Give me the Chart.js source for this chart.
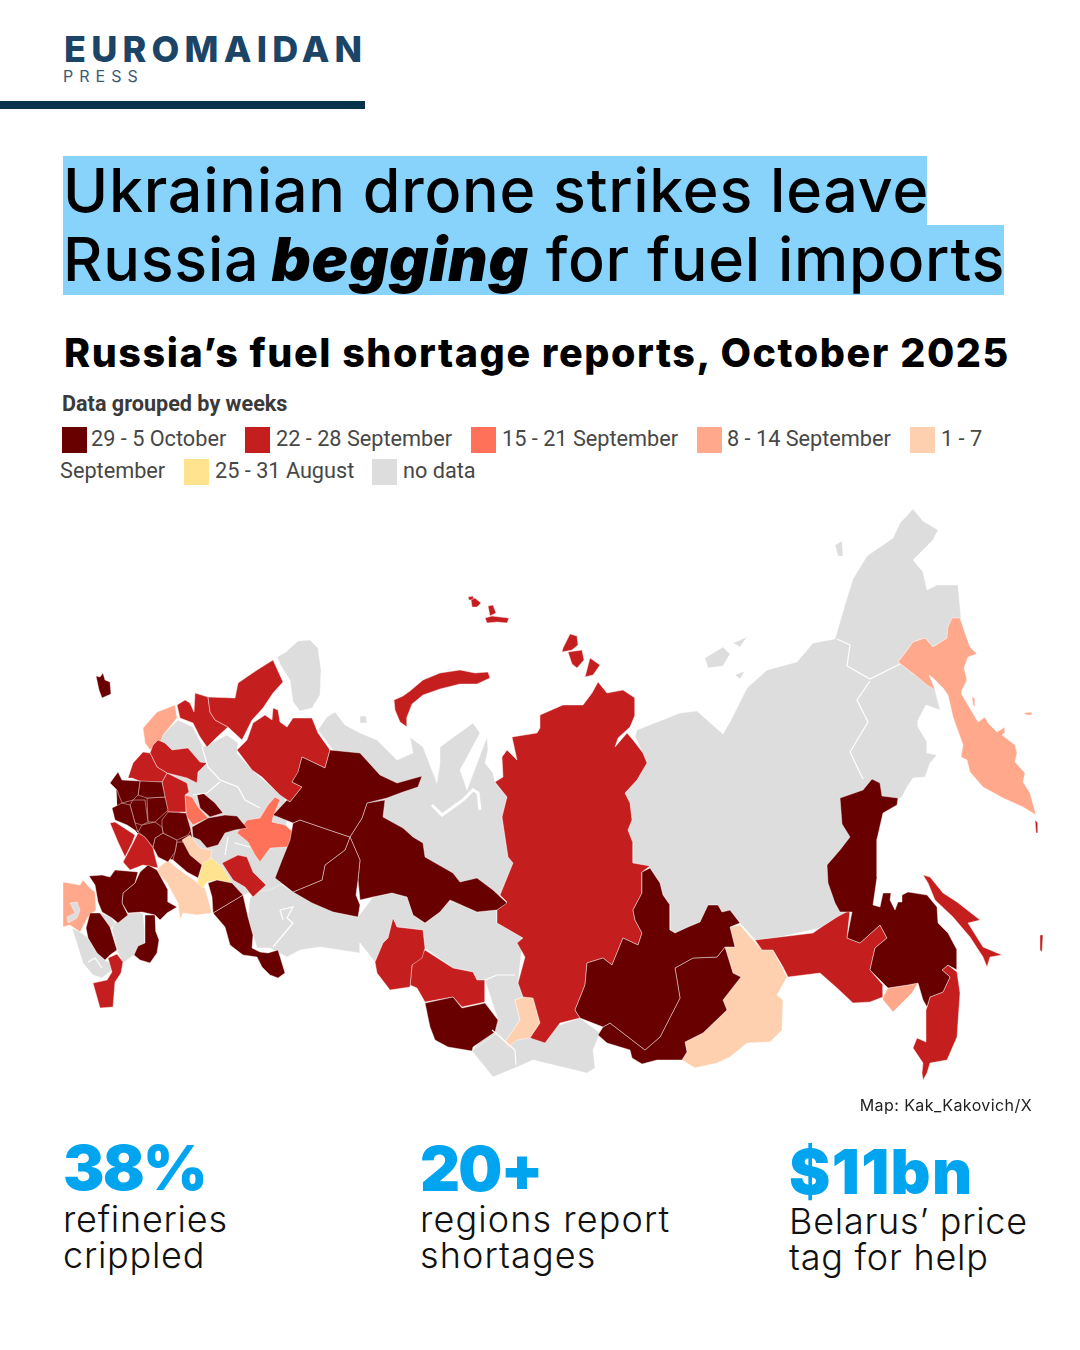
<!DOCTYPE html>
<html>
<head>
<meta charset="utf-8">
<title>Russia's fuel shortage reports, October 2025</title>
<script src="https://cdn.jsdelivr.net/npm/chart.js@4"></script>
<style>
  html, body { margin: 0; padding: 0; background: #fff; }
  #page { position: relative; width: 1080px; height: 1350px; overflow: hidden; font-family: Inter, sans-serif; color: #000; }
  #page div { position: absolute; white-space: nowrap; }
  #mapCanvas { position: absolute; left: 0; top: 490px; }
  .logo1 { left: 64px; top: 28px; font-size: 36px; line-height: 42px; font-weight: 800; letter-spacing: 5.2px; color: #1b4467; }
  .logo2 { left: 63px; top: 66px; font-size: 16px; line-height: 20px; letter-spacing: 6px; color: #3d5a75; }
  .bar { left: 0; top: 101px; width: 365px; height: 8px; background: #07344c; }
  .hl { background: #87d3fb; }
  .head { left: 63px; font-size: 61px; line-height: 70px; font-weight: 500; letter-spacing: 0.75px; }
  .head b { font-weight: 900; font-style: italic; letter-spacing: 0.7px; margin-left: -5px; }
  .sub { left: 64px; top: 328px; font-size: 39.5px; line-height: 50px; font-weight: 800; letter-spacing: 1.55px; }
  .legT { left: 62px; top: 391px; font: 700 21.6px/26px Roboto, sans-serif; color: #3a3a3a; }
  .legL { font: 400 21.7px/28px Roboto, sans-serif; color: #474747; }
  .sw { width: 25px; height: 26px; }
  .credit { right: 48px; top: 1095px; font-size: 16px; line-height: 20px; color: #222; letter-spacing: 0.42px; }
  .stat { font-size: 62px; line-height: 70px; font-weight: 900; color: #00a4ef; }
  .cap { font-size: 36px; line-height: 35.5px; font-weight: 300; color: #111; white-space: pre !important; }
</style>
</head>
<body>
<div id="page">
  <div class="logo1">EUROMAIDAN</div>
  <div class="logo2">PRESS</div>
  <div class="bar"></div>
  <div class="hl" style="left:63px;top:156px;width:864px;height:70px"></div>
  <div class="hl" style="left:63px;top:225px;width:941px;height:70px"></div>
  <div class="head" style="top:155px">Ukrainian drone strikes leave</div>
  <div class="head" style="top:224px">Russia <b>begging</b> for fuel imports</div>
  <div class="sub">Russia’s fuel shortage reports, October 2025</div>
  <div class="legT">Data grouped by weeks</div>
  <div id="legend"></div>
  <canvas id="mapCanvas" width="1080" height="610"></canvas>
  <div class="credit">Map: Kak_Kakovich/X</div>
  <div id="stats"></div>
</div>
<script>
// legend
const weekLabels = ['29 - 5 October', '22 - 28 September', '15 - 21 September', '8 - 14 September', '1 - 7', '25 - 31 August', 'no data'];
const weekColors = ['#680000', '#c51e1e', '#ff7259', '#ffa88b', '#ffd0b0', '#ffe38f', '#dddddd'];

// stats under the map
const statValues = ['38%', '20+', '$11bn'];
const statCaptions = ['refineries\ncrippled', 'regions report\nshortages', 'Belarus’ price\ntag for help'];

// regions, as [x, y] outlines in map units
const noData = [
  [[162,735],[178,720],[193,727],[203,747],[227,735],[238,743],[237,753],[252,770],[273,788],[285,795],[290,880],[270,890],[248,893],[235,900],[210,860],[170,850],[150,820],[160,790],[150,770]],
  [[277,657],[286,652],[298,641],[310,640],[318,648],[321,670],[320,695],[312,708],[300,711],[293,702],[290,680],[281,666]],
  [[318,730],[327,717],[335,712],[345,725],[360,733],[377,740],[397,760],[413,753],[410,737],[423,747],[437,783],[440,763],[440,747],[473,723],[480,733],[460,770],[467,790],[487,737],[488,750],[485,763],[493,773],[495,782],[507,797],[502,817],[508,857],[513,863],[500,895],[497,910],[440,900],[400,850],[360,790],[340,760]],
  [[360,716],[366,716],[367,723],[360,723]],
  [[250,898],[275,880],[293,892],[333,912],[358,917],[373,897],[392,893],[407,897],[413,915],[425,923],[440,912],[450,900],[477,912],[497,910],[497,923],[523,938],[518,983],[523,997],[515,1000],[520,1020],[505,1042],[498,1032],[472,1051],[498,1020],[485,980],[477,980],[473,972],[453,968],[425,948],[423,930],[397,927],[393,918],[388,938],[383,943],[375,962],[360,943],[360,953],[320,947],[300,950],[287,957],[270,948],[257,948],[253,935],[248,917]],
  [[472,1051],[493,1077],[517,1067],[533,1060],[587,1073],[595,1068],[593,1050],[600,1033],[580,1018],[545,1030],[517,1030],[498,1025]],
  [[113,925],[128,913],[143,913],[145,932],[145,943],[138,946],[134,955],[123,963],[118,953],[112,930]],
  [[100,912],[112,918],[116,925],[108,930]],
  [[72,928],[80,932],[87,937],[97,953],[105,960],[110,963],[112,970],[102,978],[93,975],[83,963],[78,947]],
  [[835,639],[847,598],[853,579],[867,556],[893,538],[900,523],[913,509],[923,521],[938,530],[933,540],[913,560],[923,572],[927,590],[937,585],[958,585],[961,618],[947,638],[933,647],[925,638],[913,642],[905,653],[898,662],[915,675],[929,675],[935,690],[940,710],[926,705],[918,720],[918,727],[927,742],[927,753],[937,755],[930,763],[925,777],[913,778],[907,787],[902,797],[880,810],[870,850],[850,911],[837,917],[820,928],[780,937],[755,940],[740,923],[730,910],[722,912],[718,905],[708,905],[700,922],[688,927],[675,933],[670,930],[670,905],[663,895],[660,883],[650,868],[633,863],[633,843],[628,830],[632,820],[630,803],[625,793],[637,780],[647,763],[643,753],[635,737],[637,730],[680,713],[697,711],[723,734],[730,722],[747,688],[767,670],[797,662],[813,643]],
  [[705,658],[723,647],[730,654],[723,666],[708,668]],
  [[733,643],[747,637],[740,647]],
  [[735,675],[745,671],[740,679]],
  [[835,545],[842,541],[843,556],[838,556]],
];
const holeInCrimeaSide = [
  [[70,903],[77,902],[80,910],[77,918],[68,923],[67,917],[75,913]],
];
const sep1to7 = [
  [[182,840],[190,835],[200,848],[212,850],[210,860],[202,866],[190,855]],
  [[158,868],[168,860],[177,868],[198,883],[205,888],[212,913],[197,915],[183,913],[180,920],[178,903],[167,883],[158,873]],
  [[515,1000],[523,997],[533,998],[540,1023],[530,1038],[517,1040],[508,1047],[505,1042],[520,1020]],
  [[730,927],[740,925],[753,940],[762,950],[773,950],[787,977],[777,995],[783,1000],[782,1030],[770,1042],[747,1043],[730,1057],[717,1063],[695,1068],[682,1060],[687,1052],[685,1042],[703,1033],[727,1010],[723,1000],[741,977],[733,973],[725,947],[735,947]],
];
const aug25to31 = [
  [[197,883],[203,863],[212,858],[223,868],[232,883],[217,880],[207,882],[203,888]],
];
const sep8to14 = [
  [[143,728],[157,712],[175,705],[177,718],[163,735],[160,743],[150,750],[145,743]],
  [[63,882],[80,885],[83,880],[90,888],[95,892],[96,910],[88,917],[80,932],[70,925],[63,927]],
  [[952,618],[960,618],[965,633],[970,647],[977,654],[968,657],[964,668],[967,680],[962,690],[962,695],[968,705],[978,722],[985,717],[988,723],[997,732],[1005,727],[1005,732],[1002,735],[1015,745],[1017,753],[1015,762],[1025,773],[1023,782],[1030,793],[1036,815],[1023,807],[1003,798],[983,787],[970,772],[967,760],[961,757],[963,745],[953,717],[948,695],[943,688],[933,678],[929,675],[935,690],[927,685],[915,675],[898,662],[905,653],[913,642],[925,638],[933,647],[947,638],[948,627]],
  [[883,997],[888,988],[908,985],[918,983],[912,993],[893,1012],[883,1000]],
  [[972,697],[975,698],[975,707],[973,705]],
  [[1023,713],[1032,712],[1032,715],[1027,715]],
];
const sep15to21 = [
  [[185,795],[192,797],[198,807],[208,818],[193,825],[187,817],[186,812]],
  [[237,833],[247,820],[260,818],[268,805],[275,797],[280,800],[273,817],[272,822],[285,825],[299,837],[287,847],[270,848],[260,862],[255,855],[248,842]],
];
const sep22to28 = [
  [[208,697],[235,698],[238,683],[257,670],[273,660],[283,682],[273,693],[263,708],[252,720],[242,740],[228,727],[215,720],[210,712]],
  [[177,705],[185,700],[190,703],[194,712],[195,693],[208,697],[210,712],[215,720],[228,727],[217,737],[207,747],[200,737],[193,723],[180,718]],
  [[237,750],[247,740],[253,723],[265,715],[272,720],[273,708],[278,710],[280,722],[287,727],[293,718],[312,718],[318,733],[330,750],[325,768],[302,757],[298,773],[292,782],[302,787],[290,802],[280,795],[273,788],[262,777],[252,770]],
  [[128,778],[133,763],[143,752],[150,753],[157,767],[167,773],[162,782],[142,782],[132,778]],
  [[150,753],[153,745],[158,740],[165,743],[172,750],[188,748],[200,762],[207,763],[198,772],[197,783],[187,778],[167,773],[157,767]],
  [[167,773],[187,783],[189,792],[185,795],[186,812],[168,812],[165,797],[162,782]],
  [[110,823],[115,822],[135,835],[132,843],[125,857],[118,842]],
  [[123,862],[132,845],[138,833],[145,837],[153,848],[158,868],[143,865],[130,870]],
  [[222,863],[238,855],[247,857],[253,872],[266,885],[253,897],[245,887],[233,880]],
  [[108,958],[117,954],[123,962],[121,973],[115,982],[113,1007],[100,1008],[93,983],[107,980],[112,972]],
  [[394,700],[403,696],[410,691],[423,680],[440,673],[460,670],[475,673],[488,672],[490,678],[477,684],[460,684],[440,689],[423,695],[412,704],[407,717],[407,727],[400,722],[395,710]],
  [[471,600],[475,598],[481,603],[477,607],[472,607]],
  [[468,597],[473,596],[474,600],[469,600]],
  [[488,606],[493,605],[496,613],[490,616]],
  [[485,618],[492,616],[500,617],[509,618],[507,623],[497,622],[487,623]],
  [[563,648],[567,640],[570,634],[577,636],[578,645],[572,650],[562,652]],
  [[568,652],[582,650],[584,660],[577,668],[572,664]],
  [[590,658],[600,665],[593,675],[585,677]],
  [[540,715],[563,705],[583,705],[592,693],[598,682],[607,693],[623,690],[635,698],[635,715],[630,727],[618,738],[615,747],[627,733],[633,740],[643,753],[647,763],[637,780],[625,793],[630,803],[632,820],[628,830],[633,843],[633,863],[650,866],[642,872],[642,893],[633,910],[635,920],[642,933],[638,945],[623,938],[612,965],[603,958],[587,963],[585,985],[575,1010],[580,1018],[560,1023],[545,1043],[530,1038],[540,1023],[533,998],[523,997],[518,983],[525,957],[517,943],[523,938],[497,923],[497,910],[507,902],[500,895],[513,863],[508,857],[502,817],[507,797],[495,782],[503,777],[502,757],[507,750],[517,760],[512,737],[537,733],[540,728]],
  [[375,962],[383,943],[388,938],[393,918],[397,927],[423,930],[425,948],[422,958],[412,965],[410,987],[390,990],[377,973]],
  [[412,965],[425,950],[453,968],[473,972],[477,980],[485,980],[485,1002],[462,1007],[453,997],[425,1002],[417,988],[410,985]],
  [[755,940],[780,937],[813,933],[820,928],[837,917],[850,910],[847,938],[860,943],[880,925],[887,938],[875,948],[870,970],[883,985],[883,997],[870,1002],[853,1003],[837,988],[820,973],[788,977],[783,967],[773,950],[762,950]],
  [[927,1007],[930,997],[943,992],[950,977],[942,970],[948,965],[957,972],[960,993],[957,1037],[947,1060],[930,1063],[927,1073],[923,1080],[922,1073],[923,1063],[913,1048],[917,1038],[926,1042],[926,1010]],
  [[923,875],[930,877],[943,893],[957,902],[980,920],[968,923],[983,947],[1002,955],[990,957],[987,967],[983,957],[970,937],[953,917],[935,900],[928,883]],
  [[1035,820],[1038,823],[1038,833],[1036,833]],
  [[1040,935],[1043,935],[1042,952],[1040,950]],
];
const oct29to5 = [
  [[96,676],[100,677],[103,673],[105,680],[110,682],[111,694],[102,698],[99,690]],
  [[273,815],[287,800],[290,802],[302,787],[292,782],[298,772],[302,757],[325,768],[330,750],[360,753],[380,775],[397,783],[422,776],[418,787],[403,792],[387,798],[367,803],[362,818],[350,837],[335,832],[300,820],[293,823]],
  [[293,823],[300,820],[335,832],[350,837],[345,850],[325,865],[322,880],[293,892],[275,878],[282,860],[290,840]],
  [[350,837],[345,850],[325,865],[322,880],[293,892],[312,903],[333,912],[358,917],[360,905],[356,895],[358,880],[360,860]],
  [[367,803],[385,800],[383,817],[403,828],[413,837],[423,843],[425,857],[453,873],[460,882],[477,878],[493,890],[507,903],[497,910],[477,912],[450,900],[440,912],[425,923],[413,915],[407,897],[392,893],[373,897],[360,900],[358,880],[360,860],[350,837],[362,818]],
  [[197,795],[203,793],[215,803],[223,813],[210,817],[200,808]],
  [[192,827],[208,818],[225,815],[237,816],[247,828],[235,830],[225,833],[218,845],[207,848],[200,840],[193,837]],
  [[110,783],[118,772],[122,780],[140,781],[138,795],[133,800],[122,803],[117,790]],
  [[140,781],[162,782],[165,797],[147,798],[138,795]],
  [[112,808],[122,803],[130,805],[135,823],[138,832],[127,825],[115,820]],
  [[130,805],[133,800],[145,800],[148,822],[142,825],[135,823]],
  [[147,798],[165,797],[168,810],[155,822],[148,822]],
  [[138,832],[142,825],[155,822],[162,827],[163,833],[155,838],[153,847],[145,837]],
  [[162,820],[168,812],[186,813],[191,830],[188,835],[177,840],[163,833],[162,827]],
  [[155,838],[163,833],[177,840],[175,852],[168,862],[158,857],[153,847]],
  [[177,842],[183,842],[190,855],[202,865],[198,878],[187,872],[173,860],[175,852]],
  [[208,883],[217,880],[232,883],[243,895],[213,913],[212,897]],
  [[213,913],[243,895],[248,917],[253,935],[252,948],[260,952],[268,953],[278,950],[285,973],[278,978],[270,975],[262,967],[257,957],[243,955],[230,945],[225,927]],
  [[89,876],[102,875],[110,877],[115,870],[138,872],[135,883],[123,893],[122,903],[128,915],[118,923],[112,918],[102,912],[98,902],[95,885]],
  [[123,893],[135,883],[140,872],[148,865],[157,870],[168,890],[168,902],[177,907],[167,913],[160,920],[155,915],[142,912],[128,913],[122,903]],
  [[145,915],[155,915],[156,932],[159,940],[157,953],[150,963],[140,960],[134,955],[138,946],[145,943],[145,932]],
  [[90,913],[100,913],[110,927],[117,950],[110,955],[105,960],[97,953],[88,938],[86,928]],
  [[425,1003],[453,997],[462,1008],[485,1003],[498,1020],[495,1032],[473,1047],[472,1051],[448,1047],[435,1040],[430,1027]],
  [[575,1010],[585,985],[587,963],[603,958],[612,965],[623,938],[638,945],[642,933],[635,920],[633,910],[642,893],[642,872],[650,868],[660,883],[663,895],[670,905],[670,930],[675,933],[688,927],[700,922],[708,905],[718,905],[722,912],[730,910],[740,923],[730,927],[735,947],[725,947],[717,957],[693,958],[675,968],[680,998],[660,1037],[645,1050],[610,1023],[603,1027],[580,1018]],
  [[610,1023],[645,1050],[660,1037],[680,998],[675,968],[693,958],[717,957],[725,947],[733,973],[741,977],[723,1000],[727,1010],[703,1033],[685,1042],[687,1052],[682,1060],[657,1060],[642,1064],[632,1058],[630,1050],[607,1043],[598,1035],[603,1027]],
  [[872,779],[880,783],[882,796],[898,798],[897,805],[883,813],[877,839],[877,877],[873,905],[880,907],[883,893],[891,893],[890,900],[895,910],[898,902],[902,902],[902,895],[908,892],[927,895],[937,907],[938,923],[948,933],[957,950],[957,970],[948,965],[942,970],[950,977],[943,992],[930,997],[927,1007],[923,1000],[918,983],[908,985],[888,988],[870,970],[875,948],[887,938],[880,925],[860,943],[847,938],[852,912],[840,912],[835,903],[828,883],[827,865],[840,850],[850,837],[842,824],[840,798],[863,790]],
];
// fills the slivers between the small western regions
const westBacking = [
  [[117,790],[138,782],[165,790],[190,830],[198,870],[180,860],[165,858],[150,845],[135,830],[118,815]],
];

// inner borders of the no data regions and the white gulfs
const greyBorders = [
  [[202,747],[208,767],[220,780],[238,787],[245,800],[260,808]],
  [[220,782],[207,793],[193,795]],
  [[837,639],[850,645],[847,666],[870,679],[900,664]],
  [[870,681],[857,700],[868,722],[850,752],[863,779]],
  [[280,910],[293,907],[287,918],[293,923],[273,947]],
  [[280,910],[283,920]],
  [[485,980],[497,975],[515,975]],
  [[492,1030],[515,1050],[516,1065]],
  [[228,837],[225,855]],
  [[235,843],[250,847]],
  [[88,962],[95,958],[102,968]],
];
const whiteGulfs = [
  [[432,805],[442,815],[463,800],[473,790],[478,793],[480,810]],
];

const mapDatasets = [];
function addRegions(list, color, edge) {
  list.forEach((outline) => {
    mapDatasets.push({
      data: outline.concat([outline[0]]).map(([x, y]) => ({ x: x, y: y })),
      showLine: true,
      fill: 'shape',
      backgroundColor: color,
      borderColor: edge,
      borderWidth: 1,
      pointRadius: 0,
      tension: 0,
      clip: false
    });
  });
}
function addLines(list, width) {
  list.forEach((line) => {
    mapDatasets.push({
      data: line.map(([x, y]) => ({ x: x, y: y })),
      showLine: true,
      fill: false,
      borderColor: '#ffffff',
      borderWidth: width,
      pointRadius: 0,
      tension: 0,
      clip: false
    });
  });
}

const softEdge = 'rgba(255,255,255,0.42)';
// chart.js draws dataset 0 last, so push the top layer first
addLines(whiteGulfs, 3);
addLines(greyBorders, 1.2);
addRegions(holeInCrimeaSide, weekColors[6], softEdge);
addRegions(oct29to5, weekColors[0], softEdge);
addRegions(sep22to28, weekColors[1], softEdge);
addRegions(sep15to21, weekColors[2], softEdge);
addRegions(sep8to14, weekColors[3], softEdge);
addRegions(aug25to31, weekColors[5], softEdge);
addRegions(sep1to7, weekColors[4], softEdge);
addRegions(westBacking, weekColors[0], weekColors[0]);
addRegions(noData, weekColors[6], softEdge);

new Chart(document.getElementById('mapCanvas'), {
  type: 'scatter',
  data: { datasets: mapDatasets },
  options: {
    responsive: false,
    animation: false,
    events: [],
    layout: { padding: 0 },
    plugins: { legend: { display: false }, tooltip: { enabled: false } },
    scales: {
      x: { type: 'linear', min: 0, max: 1080, display: false },
      y: { type: 'linear', min: 490, max: 1100, reverse: true, display: false }
    }
  }
});

// legend rows, wrapped the way the source screenshot wraps
const legendEl = document.getElementById('legend');
const legendPos = [
  { sw: 62, text: 91, y: 427, color: 0, label: weekLabels[0] },
  { sw: 245, text: 276, y: 427, color: 1, label: weekLabels[1] },
  { sw: 471, text: 502, y: 427, color: 2, label: weekLabels[2] },
  { sw: 697, text: 727, y: 427, color: 3, label: weekLabels[3] },
  { sw: 910, text: 941, y: 427, color: 4, label: weekLabels[4] },
  { sw: null, text: 60, y: 459, color: 4, label: 'September' },
  { sw: 184, text: 215, y: 459, color: 5, label: weekLabels[5] },
  { sw: 372, text: 403, y: 459, color: 6, label: weekLabels[6] }
];
legendPos.forEach((p) => {
  if (p.sw !== null) {
    legendEl.insertAdjacentHTML('beforeend', '<div class="sw" style="left:' + p.sw + 'px;top:' + p.y + 'px;background:' + weekColors[p.color] + '"></div>');
  }
  legendEl.insertAdjacentHTML('beforeend', '<div class="legL" style="left:' + p.text + 'px;top:' + (p.y - 2) + 'px">' + p.label + '</div>');
});

const statsEl = document.getElementById('stats');
const statX = [63, 420, 789];
const statTop = [1133, 1134, 1137];
const statSpacing = [-1.8, -1.8, 1.4];
const capSpacing = [0.75, 1.1, 0.75];
const capTop = [1202, 1202, 1204];
statValues.forEach((v, i) => {
  statsEl.insertAdjacentHTML('beforeend', '<div class="stat" style="left:' + statX[i] + 'px;top:' + statTop[i] + 'px;letter-spacing:' + statSpacing[i] + 'px">' + v + '</div>');
  statsEl.insertAdjacentHTML('beforeend', '<div class="cap" style="left:' + statX[i] + 'px;top:' + capTop[i] + 'px;letter-spacing:' + capSpacing[i] + 'px">' + statCaptions[i] + '</div>');
});
</script>
</body>
</html>
